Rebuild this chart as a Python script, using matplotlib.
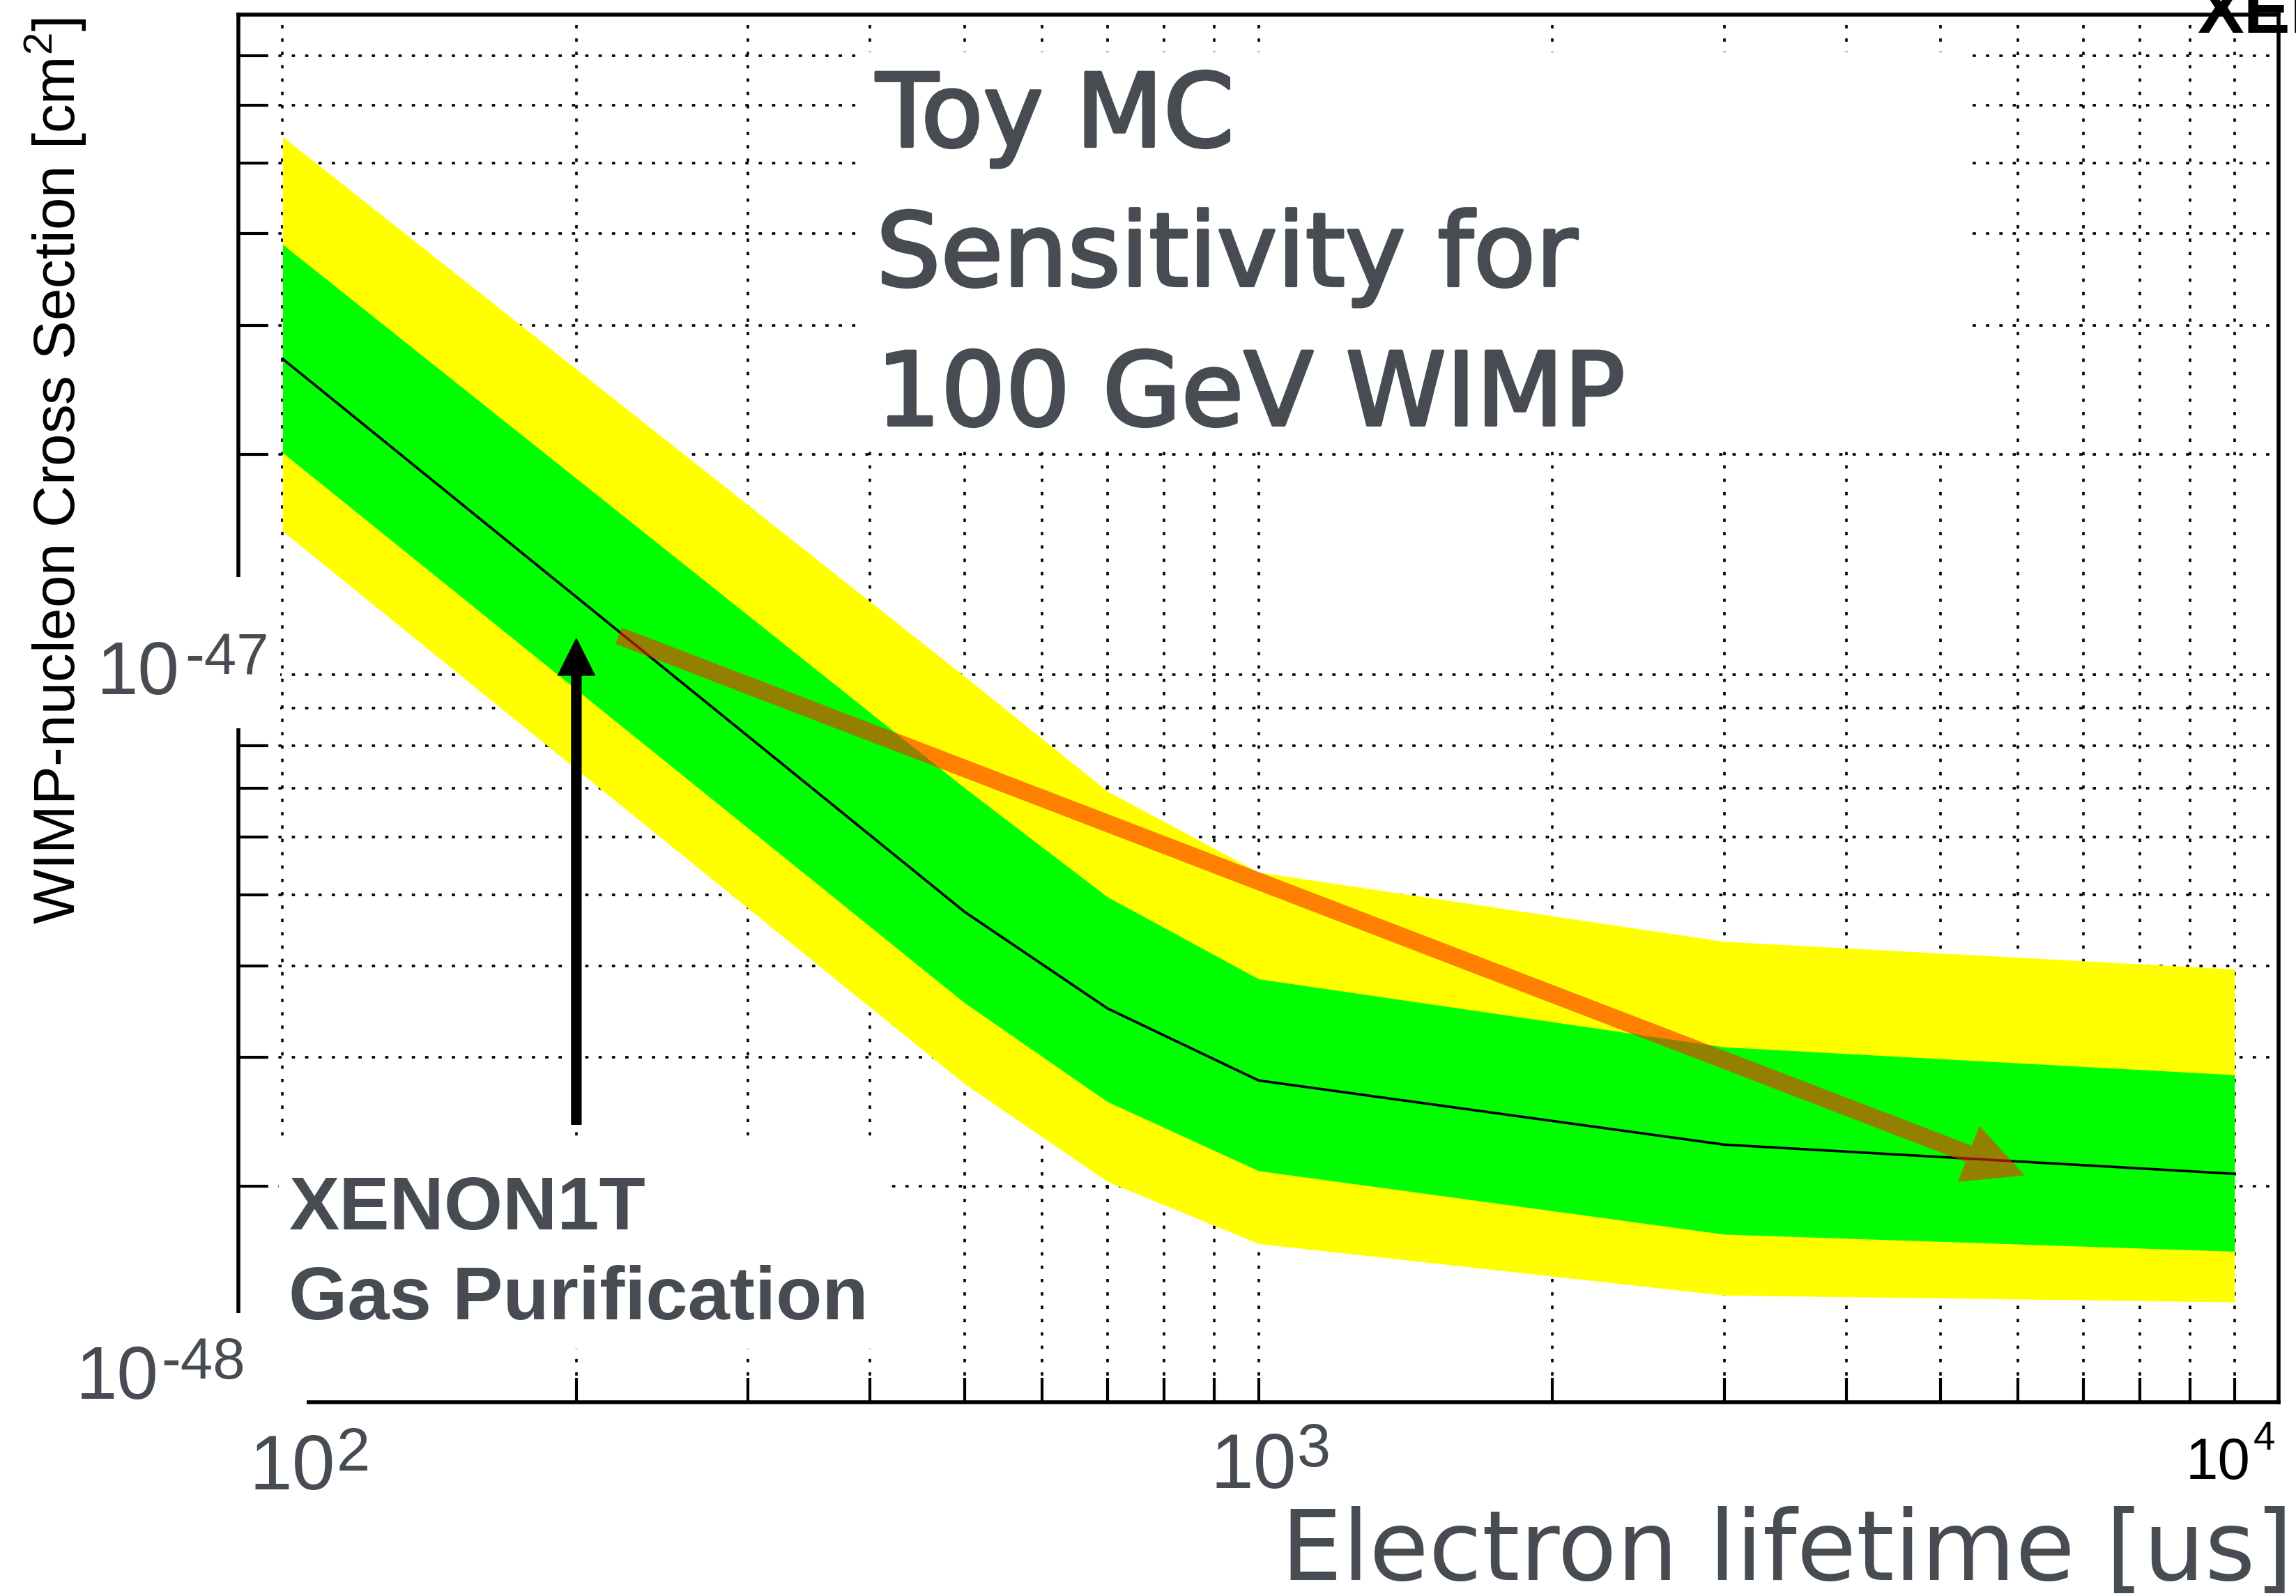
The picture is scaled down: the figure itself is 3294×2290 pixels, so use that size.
import numpy as np
import matplotlib
matplotlib.use('Agg')
import matplotlib.pyplot as plt
import matplotlib.patheffects as pe
from matplotlib.patches import Rectangle, FancyArrowPatch
from matplotlib.ticker import LogLocator, NullFormatter

plt.rcParams['font.family'] = ['Liberation Sans', 'DejaVu Sans']
plt.rcParams['mathtext.fontset'] = 'custom'
plt.rcParams['mathtext.rm'] = 'Liberation Sans'

#======data============================
lifetime = [100, 500, 700, 1000, 3000, 10000]  # electron lifetime [us]
median = [2.70e-47, 4.74e-48, 3.50e-48, 2.79e-48, 2.28e-48, 2.08e-48]
green_hi = [3.87e-47, 7.00e-48, 4.97e-48, 3.84e-48, 3.10e-48, 2.84e-48]
green_lo = [2.01e-47, 3.56e-48, 2.61e-48, 2.10e-48, 1.72e-48, 1.63e-48]
yellow_hi = [5.43e-47, 9.94e-48, 6.93e-48, 5.37e-48, 4.32e-48, 3.96e-48]
yellow_lo = [1.57e-47, 2.76e-48, 2.03e-48, 1.67e-48, 1.42e-48, 1.39e-48]

purif_arrow = [(200, 2.43e-48), (200, 1.12e-47)]
trend_arrow = [(221, 1.13e-47), (6095, 2.07e-48)]

title_lines = ['Toy MC', 'Sensitivity for', '100 GeV WIMP']
note_lines = ['XENON1T', 'Gas Purification']

GRAY = '#464c52'
W, H = 3294, 2290

fig = plt.figure(figsize=(W/100, H/100), dpi=100)
ax = fig.add_axes([342/W, 1-2012/H, (3268.7-342)/W, (2012-21)/H])

ax.set_xscale('log')
ax.set_yscale('log')
ax.set_xlim(90.1, 11090)
ax.set_ylim(1.014e-48, 7.97e-47)

#======bands=======
ax.fill_between(lifetime, yellow_lo, yellow_hi, color='#ffff00', lw=0, zorder=2)
ax.fill_between(lifetime, green_lo, green_hi, color='#00ff00', lw=0, zorder=3)
ax.plot(lifetime, median, color='black', lw=2.6, zorder=4)

#======arrows=======
ax.add_patch(FancyArrowPatch(purif_arrow[0], purif_arrow[1],
                             arrowstyle='simple,head_length=38,head_width=38,tail_width=10',
                             mutation_scale=1, color='black', shrinkA=0, shrinkB=0, zorder=6))
ax.add_patch(FancyArrowPatch(trend_arrow[0], trend_arrow[1],
                             arrowstyle='simple,head_length=62,head_width=62,tail_width=18',
                             mutation_scale=1, fc=(1.0, 0.14, 0.0), ec='none', alpha=0.58,
                             shrinkA=0, shrinkB=0, zorder=5))

#======axes style (ROOT look)=======
ax.xaxis.set_major_locator(LogLocator(base=10))
ax.xaxis.set_minor_locator(LogLocator(base=10, subs=np.arange(2, 10)))
ax.yaxis.set_major_locator(LogLocator(base=10))
ax.yaxis.set_minor_locator(LogLocator(base=10, subs=np.arange(2, 10)))
for a in (ax.xaxis, ax.yaxis):
    a.set_major_formatter(NullFormatter())
    a.set_minor_formatter(NullFormatter())
ax.tick_params(which='both', direction='in', top=False, right=False, width=3, color='black')
ax.tick_params(axis='y', which='both', length=30)
ax.tick_params(axis='x', which='both', length=25)
for s in ax.spines.values():
    s.set_linewidth(4)
ax.set_axisbelow(True)
ax.grid(True, which='both', color='black', lw=2.6, linestyle=(0, (1.3, 4.0)))

#======white patches over the frame (edited picture)=======
def white_box(x0, y0, x1, y1):
    fig.add_artist(Rectangle((x0/W, 1-y1/H), (x1-x0)/W, (y1-y0)/H, transform=fig.transFigure,
                             fc='white', ec='none', zorder=1))

white_box(125, 828, 402, 1045)     # 10^-47 label
white_box(60, 1884, 440, 2060)     # 10^-48 label / corner
white_box(400, 1636, 1271, 1935)   # XENON1T note
white_box(1239, 75, 2818, 645)     # Toy MC note

#======texts=======
fig.text(0.0243, 0.7052, 'WIMP-nucleon Cross Section [cm$^{\\mathregular{2}}$]', rotation=90,
         ha='center', va='center', fontsize=60, color='black')

# tick labels pasted on top: base "10" and exponent placed separately
def power_label(bx, by, sx, sy, exp, size, col, ratio=0.78):
    fig.text(bx/W, 1-by/H, '10', ha='right', va='baseline', fontsize=size, color=col, zorder=3)
    fig.text(sx/W, 1-sy/H, exp, ha='right', va='baseline', fontsize=size*ratio, color=col, zorder=3)

power_label(258, 996, 386, 968, '-47', 77, GRAY)
power_label(228, 2007, 352, 1978, '-48', 77, GRAY)
power_label(481, 2137, 531, 2110, '2', 80, GRAY)
power_label(1860, 2135, 1909, 2104, '3', 80, GRAY)
power_label(3229, 2122, 3264, 2080, '4', 60, 'black', ratio=0.68)

fig.text(3290/W, 1-2267/H, 'Electron lifetime [us]', ha='right', va='baseline',
         fontsize=100, color=GRAY, family='DejaVu Sans', zorder=3)

for i, line in enumerate(title_lines):
    fig.text(1257/W, 1-(210+200*i)/H, line, ha='left', va='baseline', family='DejaVu Sans',
             fontsize=105, color=GRAY, zorder=3,
             path_effects=[pe.withStroke(linewidth=3, foreground=GRAY)])
for i, line in enumerate(note_lines):
    fig.text(414/W, 1-(1764+129*i)/H, line, ha='left', va='baseline',
             fontsize=78, fontweight='bold', color=GRAY, zorder=3)

fig.text(3152/W, 1-47/H, 'XENON', ha='left', va='baseline', fontsize=72,
         fontweight='bold', color='black', zorder=3)

fig.savefig('out.png', dpi=100)
